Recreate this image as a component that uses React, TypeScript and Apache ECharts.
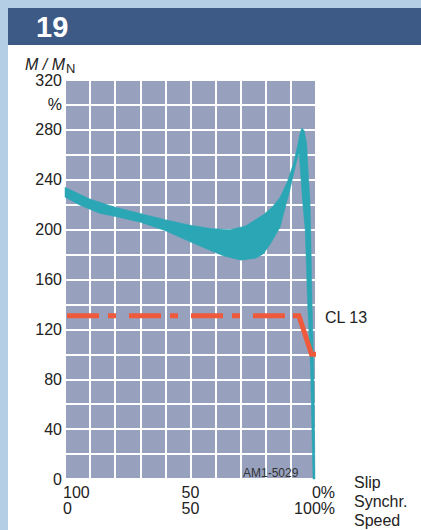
import React, { useEffect, useRef } from "react";
import * as echarts from "echarts";

// Speed in % of synchronous speed (0 = slip 100 %, 100 = synchronous)
const upperEdge: [number, number][] = [
  [0, 234], [10, 224.5], [20, 218], [30, 213], [40, 208], [50, 203.5], [58, 201],
  [65.7, 200], [72, 203], [79, 212], [82.5, 218], [85.7, 226], [88.5, 238], [91, 253],
  [92.5, 266], [93.5, 276], [94.3, 281.5], [95.3, 279.5], [96.3, 268.6], [97, 242],
  [97.6, 224], [97.9, 200], [98.4, 143.5], [99.1, 90], [99.6, 0],
];
const lowerEdge: [number, number][] = [
  [0, 226], [6, 219.5], [14, 213], [20, 210.5], [30, 206], [40, 199], [50, 190],
  [57, 184], [63, 179], [70, 175.5], [76, 177], [79, 180.5], [82, 189], [85.7, 202],
  [89.6, 232], [92.4, 256], [93.3, 261], [94.6, 224], [95.7, 200], [96.6, 143.5],
  [97.8, 90], [98.8, 0],
];
const clDashed: [number, number][] = [[0.8, 131], [87.6, 131]];
const clSolid: [number, number][] = [[90.8, 131], [93.2, 131], [98.2, 100], [100, 100]];

const xTickValues = [0, 50, 100];
const xSlipLabels = ["100", "50", "0%"];
const xSpeedLabels = ["0", "50", "100%"];
const xAxisNames = ["Slip", "Synchr.", "Speed"];
const yLabelValues = [0, 40, 80, 120, 160, 200, 240, 280, 320];
const yUnitValue = 300;

const FONT = "'Liberation Sans', Arial, Helvetica, sans-serif";

export default function App() {
  const ref = useRef<HTMLDivElement>(null);
  useEffect(() => {
    if (!ref.current) return;
    const chart = echarts.init(ref.current, undefined, { renderer: "svg" });
    const band = upperEdge.concat(lowerEdge.slice().reverse());
    chart.setOption({
      animation: false,
      backgroundColor: "#b4cfe5",
      textStyle: { fontFamily: FONT },
      grid: {
        left: 65, right: 105, top: 80, bottom: 51,
        show: true, backgroundColor: "#97a1be", borderWidth: 0,
      },
      xAxis: {
        type: "value", min: 0, max: 100, interval: 10,
        axisLine: { show: false }, axisTick: { show: false }, axisLabel: { show: false },
        splitLine: { show: true, lineStyle: { color: "#ffffff", width: 2 } },
      },
      yAxis: {
        type: "value", min: 0, max: 320, interval: 20,
        axisLine: { show: false }, axisTick: { show: false },
        axisLabel: {
          margin: 3, fontSize: 16, lineHeight: 16, color: "#222", fontFamily: FONT,
          formatter: (v: number) =>
            yLabelValues.includes(v) ? String(v) : v === yUnitValue ? "%" : "",
        },
        splitLine: { show: true, lineStyle: { color: "#ffffff", width: 2 } },
      },
      series: [
        {
          type: "custom",
          data: band,
          z: 3,
          renderItem: (params: any, api: any) => {
            if (params.dataIndex !== 0) return null;
            return {
              type: "polygon",
              shape: { points: band.map((p) => api.coord(p)) },
              style: { fill: "#2aa6b5", stroke: "#2aa6b5", lineWidth: 0.5 },
            };
          },
        },
        {
          type: "line", data: clDashed, symbol: "none", z: 5,
          lineStyle: { color: "#ef5a3c", width: 5, type: [32, 9, 8, 13], cap: "butt" },
        },
        {
          type: "line", data: clSolid, symbol: "none", z: 5,
          lineStyle: { color: "#ef5a3c", width: 5, cap: "butt", join: "miter" },
        },
      ],
    });

    const texts: any[] = [
      { type: "rect", shape: { x: 8, y: 45, width: 413, height: 485 }, style: { fill: "#ffffff" }, z: -10 },
      { type: "rect", shape: { x: 8, y: 8, width: 413, height: 37 }, style: { fill: "#3d5a86" }, z: -9 },
      {
        type: "text", x: 36, y: 27,
        style: { text: "19", fill: "#ffffff", font: `bold 29px ${FONT}`, verticalAlign: "middle" },
      },
      {
        type: "text", x: 25, y: 64,
        style: { text: "M / M", fill: "#222", font: `italic 16px ${FONT}`, lineHeight: 15, verticalAlign: "middle" },
      },
      {
        type: "text", x: 66, y: 68,
        style: { text: "N", fill: "#222", font: `13px ${FONT}`, lineHeight: 12, verticalAlign: "middle" },
      },
      {
        type: "text", x: 325, y: 317,
        style: { text: "CL 13", fill: "#222", font: `16px ${FONT}`, verticalAlign: "middle" },
      },
      {
        type: "text", x: 243, y: 473,
        style: { text: "AM1-5029", fill: "#333", font: `12px ${FONT}`, verticalAlign: "middle" },
      },
    ];
    xAxisNames.forEach((t, i) => {
      texts.push({
        type: "text", x: 354, y: 482 + i * 19,
        style: { text: t, fill: "#222", font: `16px ${FONT}`, verticalAlign: "middle" },
      });
    });
    xTickValues.forEach((v, i) => {
      const p = chart.convertToPixel({ gridIndex: 0 }, [v, 0]) as number[];
      let x = p[0];
      let align = "center";
      if (i === 0) { x = p[0] - 2; align = "left"; }
      if (i === xTickValues.length - 1) { x = p[0] + 19; align = "right"; }
      [xSlipLabels[i], xSpeedLabels[i]].forEach((t, j) => {
        texts.push({
          type: "text", x, y: 492 + j * 16,
          style: { text: t, fill: "#222", font: `16px ${FONT}`, align, verticalAlign: "middle" },
        });
      });
    });
    chart.setOption({ graphic: texts });
    return () => chart.dispose();
  }, []);
  return (
    <div
      ref={ref}
      style={{ position: "fixed", left: 0, top: 0, width: 421, height: 530 }}
    />
  );
}
